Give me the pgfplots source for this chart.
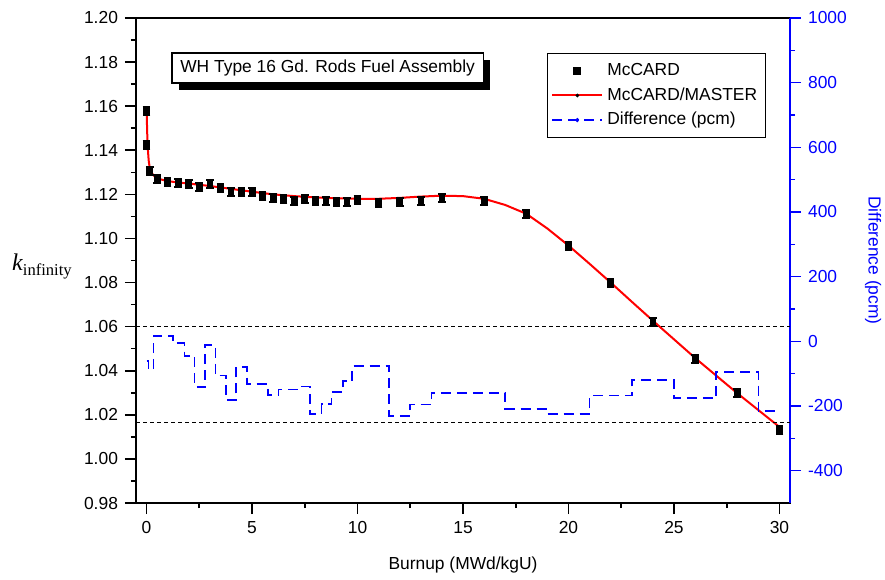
\documentclass[border=0pt]{standalone}
\usepackage{fontspec}
\setmainfont{Liberation Sans}
\newfontfamily\timesfont{Liberation Serif}
\usepackage{pgfplots}
\pgfplotsset{compat=1.18}
\usetikzlibrary{shadows,calc}
\definecolor{dblue}{RGB}{0,0,255}
\begin{document}
\begin{tikzpicture}[font=\fontsize{8.7}{10.5}\selectfont]
\begin{axis}[
  width=327pt, height=242.5pt, scale only axis,
  xmin=-0.5, xmax=30.5, ymin=0.98, ymax=1.20,
  xtick={0,5,10,15,20,25,30},
  ytick={0.98,1.00,1.02,1.04,1.06,1.08,1.10,1.12,1.14,1.16,1.18,1.20},
  minor x tick num=1, minor y tick num=1,
  xtick pos=left, ytick pos=left,
  tick align=outside,
  major tick length=5.5pt, minor tick length=2.5pt,
  every tick/.style={black, line width=0.8pt},
  axis line style={black, line width=1pt},
  /pgf/number format/assume math mode=true,
  yticklabel style={/pgf/number format/fixed, /pgf/number format/fixed zerofill, /pgf/number format/precision=2},
  xlabel={Burnup (MWd/kgU)},
  ylabel={{\timesfont\fontsize{12}{14}\selectfont\itshape k}{\timesfont\fontsize{8.3}{10}\selectfont\raisebox{-2.5pt}{infinity}}},
  every axis x label/.style={at={(rel axis cs:0.5,0)}, yshift=-31pt, anchor=center},
  every axis y label/.style={at={(rel axis cs:0,0.5)}, xshift=-47pt, yshift=-3pt, anchor=center},
  clip=false,
]
\addplot[red, line width=1pt] coordinates {
(0,1.1590) (0.02,1.1520) (0.04,1.1450) (0.07,1.1395) (0.1,1.1355) (0.15,1.1320)
(0.25,1.1295) (0.4,1.1280) (0.6,1.1270) (1,1.1260) (1.5,1.1254) (2,1.1249)
(3,1.1238) (4,1.1225) (5,1.1212) (6,1.1200) (7,1.1192) (8,1.1186) (9,1.1182)
(10,1.1180) (11,1.1180) (12,1.1184) (13,1.1190) (14,1.1194) (15,1.1192)
(16,1.1180) (17,1.1152) (18,1.1112) (19,1.1045) (20,1.0968) (21,1.0885)
(22,1.0800) (23,1.0713) (24,1.0627) (26,1.0458) (28,1.0298) (30,1.0145)
};
\addplot[only marks, mark=square*, mark size=1.45pt, black,
  error bars/.cd, y dir=both, y fixed=0.0018,
  error bar style={line width=1pt, black},
  error mark options={rotate=90, mark size=1.9pt, line width=1pt, black}]
coordinates {
(0,1.1580) (0,1.1425) (0.15,1.1305) (0.5,1.1268) (1,1.1258) (1.5,1.1250)
(2,1.1249) (2.5,1.1235) (3,1.1246) (3.5,1.1230) (4,1.1212) (4.5,1.1210)
(5,1.1210) (5.5,1.1193) (6,1.1185) (6.5,1.1180) (7,1.1171) (7.5,1.1178)
(8,1.1170) (8.5,1.1170) (9,1.1167) (9.5,1.1167) (10,1.1175) (11,1.1162)
(12,1.1164) (13,1.1171) (14,1.1182) (16,1.1172) (18,1.1110) (20,1.0965)
(22,1.0800) (24,1.0620) (26,1.0452) (28,1.0298) (30,1.0130)
};
\node[draw=black, line width=0.8pt, fill=white,
  drop shadow={shadow xshift=3.5pt, shadow yshift=-3.5pt, fill=black, opacity=1},
  minimum width=155.8pt, minimum height=15pt, inner sep=0pt]
  at (rel axis cs:0.293,0.8975) {WH Type 16 Gd. Rods Fuel Assembly};
\coordinate (bl) at (rel axis cs:0,0);
\coordinate (tr) at (rel axis cs:1,1);
\end{axis}
\begin{axis}[
  width=327pt, height=242.5pt, scale only axis,
  xmin=-0.5, xmax=30.5, ymin=-500, ymax=1000,
  axis x line=none, axis y line*=right,
  ytick={-400,-200,0,200,400,600,800,1000},
  minor y tick num=1,
  tick align=outside,
  major tick length=5.5pt, minor tick length=2.5pt,
  every tick/.style={dblue, line width=0.8pt},
  y axis line style={dblue, line width=1pt},
  /pgf/number format/assume math mode=true,
  /pgf/number format/1000 sep={},
  yticklabel style={dblue},
  ylabel={Difference (pcm)},
  every axis y label/.style={at={(rel axis cs:1,0.5)}, xshift=41.5pt, rotate=-90, anchor=center, color=dblue},
  legend style={at={(rel axis cs:0.628,0.928)}, anchor=north west, draw=black, line width=0.6pt,
    fill=white, row sep=0.5pt, inner xsep=2pt, inner ysep=3pt, font=\fontsize{8.7}{10.5}\selectfont},
  legend cell align=left,
  clip=false,
]
\addlegendimage{legend image code/.code={\fill[black] (10.8pt,-1.7pt) rectangle (14.2pt,1.7pt);}}
\addlegendentry{\makebox[75pt][l]{McCARD}}
\addlegendimage{legend image code/.code={\draw[red, line width=1pt] (0pt,0pt) -- (25pt,0pt); \fill[black] (12.5pt,0pt) circle (0.6pt);}}
\addlegendentry{McCARD/MASTER}
\addplot[forget plot, black, line width=0.6pt, dash pattern=on 2pt off 1.5pt] coordinates {(-0.5,45) (30.5,45)};
\addplot[forget plot, black, line width=0.6pt, dash pattern=on 2pt off 1.5pt] coordinates {(-0.5,-251) (30.5,-251)};
\addplot[const plot, dblue, line width=0.8pt, dash pattern=on 5pt off 3pt,
  legend image code/.code={\draw[dblue, line width=0.8pt, dash pattern=on 5pt off 3pt] (0pt,0pt) -- (25pt,0pt); \fill[dblue] (12.5pt,0pt) circle (0.6pt);}]
coordinates {
(0,-60) (0.1,-87) (0.33,17) (1.25,-6) (1.8,-45) (2.28,-142) (2.78,-11)
(3.26,-106) (3.78,-182) (4.25,-79) (4.77,-132) (5.75,-166) (6.25,-149)
(7.27,-140) (7.75,-225) (8.3,-194) (8.77,-157) (9.3,-123) (9.75,-76)
(11.5,-230) (12.5,-195) (13.5,-159) (17,-209) (19,-225) (21,-168)
(23,-119) (25,-176) (27,-94) (29,-215) (30,-215)
};
\addlegendentry{Difference (pcm)}
\end{axis}
\pgfresetboundingbox
\path ($(bl)+(-68pt,-38pt)$) rectangle ($(tr)+(47.5pt,9pt)$);
\end{tikzpicture}
\end{document}
